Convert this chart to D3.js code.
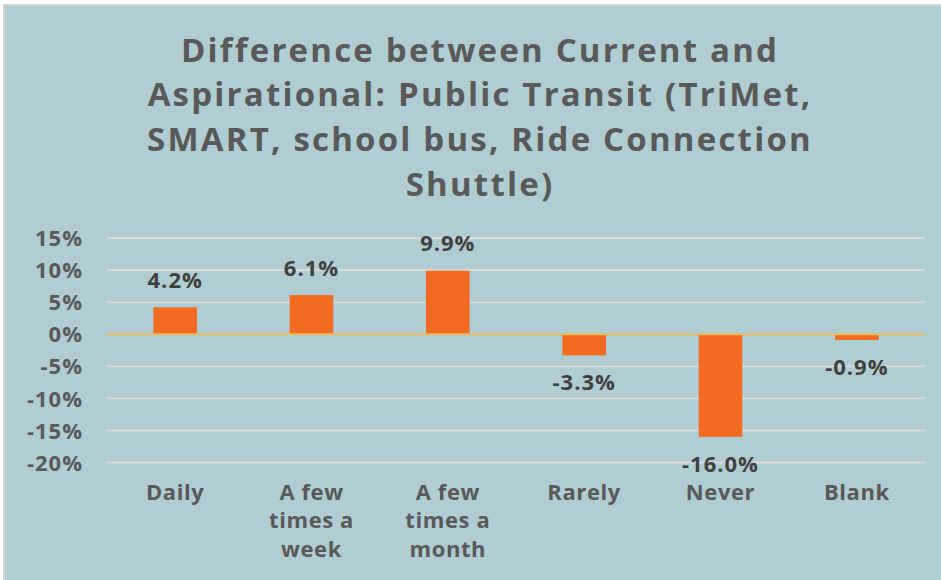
<!DOCTYPE html>
<html><head><meta charset="utf-8">
<script src="https://cdn.jsdelivr.net/npm/d3@7"></script>
<style>html,body{margin:0;padding:0;background:#fff;}svg{display:block;}</style>
</head><body>
<svg id="c" width="941" height="580"></svg>
<script>
const categories = [["Daily"],["A few","times a","week"],["A few","times a","month"],["Rarely"],["Never"],["Blank"]];
const values = [4.2, 6.1, 9.9, -3.3, -16.0, -0.9];
const tickValues = [15, 10, 5, 0, -5, -10, -15, -20];
const titleLines = ["Difference between Current and","Aspirational: Public Transit (TriMet,","SMART, school bus, Ride Connection","Shuttle)"];

const svg = d3.select("#c");
const font = "'Open Sans', sans-serif";
svg.append("rect").attr("x",4).attr("y",5).attr("width",941).attr("height",580)
  .attr("fill","#b0cdd3").attr("stroke","#d3d3d3").attr("stroke-width",2);

const x = d3.scaleBand().domain(d3.range(values.length)).range([107,925]).paddingInner(0.68).paddingOuter(0.34);
const y = d3.scaleLinear().domain([-20,15]).range([462.5,238]);

const g = svg.append("g");
g.selectAll("line.grid").data(tickValues.filter(d=>d!==0)).join("line")
  .attr("x1",107).attr("x2",925).attr("y1",d=>y(d)).attr("y2",d=>y(d))
  .attr("stroke","#d9d9d9").attr("stroke-width",2);

const yAxis = d3.axisLeft(y).tickValues(tickValues).tickSize(0).tickPadding(0).tickFormat(d=>d+"%");
const ya = svg.append("g").attr("transform","translate(83,0)").call(yAxis);
ya.select(".domain").remove();
ya.selectAll("text").attr("font-family",font).attr("font-weight","bold").attr("font-size",22)
  .attr("letter-spacing",1).attr("fill","#595959").attr("dy","0.35em");

g.selectAll("rect.bar").data(values).join("rect")
  .attr("x",(d,i)=>x(i)).attr("width",x.bandwidth())
  .attr("y",d=>y(Math.max(0,d))).attr("height",d=>Math.abs(y(d)-y(0)))
  .attr("fill","#f26b21");

svg.append("line").attr("x1",107).attr("x2",925).attr("y1",y(0)).attr("y2",y(0))
  .attr("stroke","#e8bd5a").attr("stroke-width",2);

svg.selectAll("text.dl").data(values).join("text")
  .attr("x",(d,i)=>x(i)+x.bandwidth()/2)
  .attr("y",d=> d>=0 ? y(d)-27 : y(d)+27)
  .attr("dy","0.35em").attr("text-anchor","middle")
  .attr("font-family",font).attr("font-weight","bold").attr("font-size",22).attr("letter-spacing",1)
  .attr("fill","#404040")
  .text(d=>d.toFixed(1)+"%");

const cl = svg.selectAll("text.cat").data(categories).join("text")
  .attr("text-anchor","middle").attr("font-family",font).attr("font-weight","bold")
  .attr("font-size",22).attr("letter-spacing",0.6).attr("fill","#595959");
cl.each(function(lines,i){
  d3.select(this).selectAll("tspan").data(lines).join("tspan")
    .attr("x",x(i)+x.bandwidth()/2).attr("y",(d,j)=>492+j*28.5).attr("dy","0.35em").text(d=>d);
});

svg.append("text").attr("text-anchor","middle").attr("font-family",font).attr("font-weight","bold")
  .attr("font-size",33).attr("letter-spacing",2.2).attr("fill","#595959")
  .selectAll("tspan").data(titleLines).join("tspan")
  .attr("x",480).attr("y",(d,i)=>50+i*44.7).attr("dy","0.35em").text(d=>d);
</script>
</body></html>
